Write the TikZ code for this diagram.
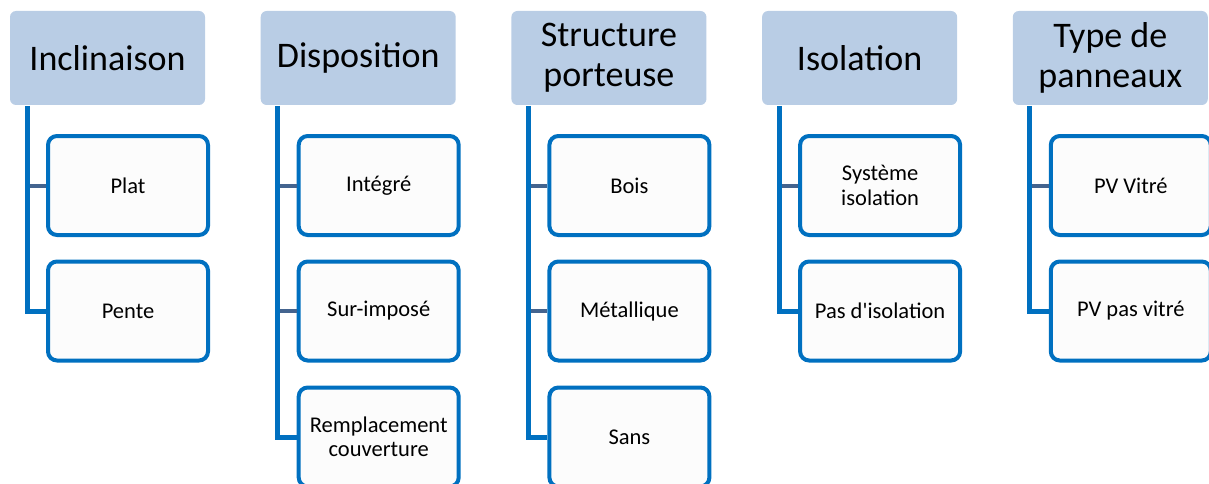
\documentclass[tikz,border=0pt]{standalone}
\usepackage{fontspec}
\setmainfont{Carlito}
\usetikzlibrary{positioning}
\definecolor{headfill}{HTML}{B9CDE5}
\definecolor{boxblue}{HTML}{0070C0}
\definecolor{stubgray}{HTML}{44648F}
\definecolor{boxfill}{HTML}{FCFCFC}

\tikzset{
  head/.style={fill=headfill, rounded corners=6pt, minimum width=195pt, minimum height=94pt, inner sep=0pt, align=center, font=\fontsize{36}{40}\selectfont},
  item/.style={draw=boxblue, line width=4pt, fill=boxfill, rounded corners=9pt, minimum width=160pt, minimum height=99pt, inner sep=0pt, align=center, font=\fontsize{22.5}{24.5}\selectfont},
  trunk/.style={boxblue, line width=5pt},
  stub/.style={stubgray, line width=4pt}
}

\begin{document}
\begin{tikzpicture}[x=1pt,y=-1pt]
\useasboundingbox (0,0) rectangle (1209,484);

% Inclinaison
\begin{scope}[xshift=0pt]
\node[head] (h1) at (107.5,58) {Inclinaison};
\node[item] (c11) at (128,185.5) {Plat};
\node[item] (c12) at (128,311) {Pente};
\coordinate (t1) at (27,106);
\draw[stub] (t1 |- c11.west) -- (c11.west);
\draw[trunk] (t1) |- (c12.west);
\end{scope}

% Disposition
\begin{scope}[xshift=250.7pt]
\node[head] (h2) at (107.5,58) {Disposition};
\node[item] (c21) at (128,185.5) {Intégré};
\node[item] (c22) at (128,311) {Sur-imposé};
\node[item] (c23) at (128,437) {Remplacement\\couverture};
\coordinate (t2) at (27,106);
\draw[stub] (t2 |- c21.west) -- (c21.west);
\draw[stub] (t2 |- c22.west) -- (c22.west);
\draw[trunk] (t2) |- (c23.west);
\end{scope}

% Structure porteuse
\begin{scope}[xshift=501.4pt]
\node[head] (h3) at (107.5,58) {Structure\\porteuse};
\node[item] (c31) at (128,185.5) {Bois};
\node[item] (c32) at (128,311) {Métallique};
\node[item] (c33) at (128,437) {Sans};
\coordinate (t3) at (27,106);
\draw[stub] (t3 |- c31.west) -- (c31.west);
\draw[stub] (t3 |- c32.west) -- (c32.west);
\draw[trunk] (t3) |- (c33.west);
\end{scope}

% Isolation
\begin{scope}[xshift=752.1pt]
\node[head] (h4) at (107.5,58) {Isolation};
\node[item] (c41) at (128,185.5) {Système\\isolation};
\node[item] (c42) at (128,311) {Pas d\textquotesingle isolation};
\coordinate (t4) at (27,106);
\draw[stub] (t4 |- c41.west) -- (c41.west);
\draw[trunk] (t4) |- (c42.west);
\end{scope}

% Type de panneaux
\begin{scope}[xshift=1002.8pt]
\node[head] (h5) at (107.5,58) {Type de\\panneaux};
\node[item] (c51) at (128,185.5) {PV Vitré};
\node[item] (c52) at (128,311) {PV pas vitré};
\coordinate (t5) at (27,106);
\draw[stub] (t5 |- c51.west) -- (c51.west);
\draw[trunk] (t5) |- (c52.west);
\end{scope}

\end{tikzpicture}
\end{document}
